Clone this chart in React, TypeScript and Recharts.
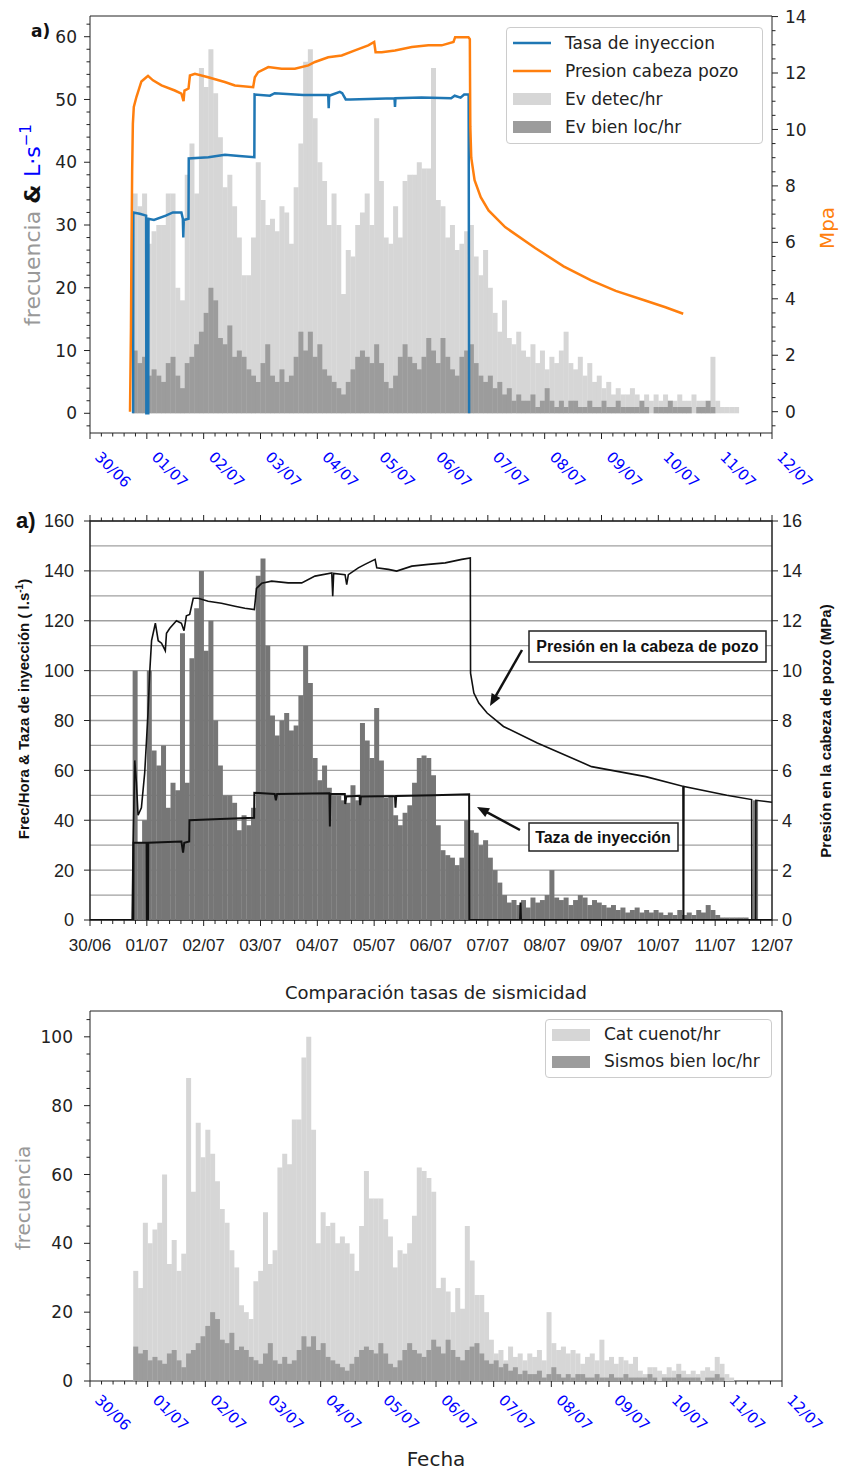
import React from 'react'
import { ComposedChart, Bar, Line, XAxis, YAxis, ReferenceArea, CartesianGrid, Legend } from 'recharts'

// time axis: hours counted from 30/06 00:00, one label per day
const DAY_LABELS = ['30/06', '01/07', '02/07', '03/07', '04/07', '05/07', '06/07', '07/07', '08/07', '09/07', '10/07', '11/07', '12/07']
const FIRST_HOUR = 18 // rate series start at 30/06 18:00
const BIN_HOURS = 2
const N_BINS = 144

const LIGHT = '#d6d6d6'
const DARK = '#9c9c9c'
const SCAN_BAR = '#767676'
const BLUE = '#1f77b4'
const ORANGE = '#ff7f0e'
const MPL_FONT = 'DejaVu Sans, Verdana, sans-serif'
const SCAN_FONT = 'Liberation Sans, Arial, sans-serif'
const PANEL2_PLOT_H = 399

// events per hour, 2 h bins from 30/06 18:00
const evDetec = [
  35, 33, 35, 27, 29, 30, 30, 35, 35, 20,
  18, 38, 43, 35, 55, 52, 58, 51, 44, 36,
  38, 33, 28, 22, 22, 28, 40, 34, 30, 31,
  29, 33, 32, 27, 36, 43, 56, 58, 47, 40,
  37, 30, 35, 30, 19, 26, 25, 30, 32, 35,
  30, 47, 37, 28, 27, 33, 28, 37, 38, 38,
  40, 39, 39, 55, 34, 33, 28, 30, 26, 27,
  29, 30, 25, 22, 26, 20, 16, 13, 18, 12,
  11, 13, 10, 9, 11, 8, 10, 7, 9, 8,
  10, 13, 8, 7, 9, 6, 8, 5, 6, 4,
  5, 3, 4, 3, 3, 4, 3, 2, 3, 2,
  3, 2, 3, 2, 2, 3, 2, 2, 3, 2,
  2, 1, 9, 2, 1, 1, 1, 1,
]
const evBienLoc = [
  10, 8, 9, 6, 7, 6, 5, 8, 9, 6,
  4, 8, 9, 11, 13, 16, 20, 18, 12, 11,
  14, 9, 10, 9, 7, 6, 5, 8, 11, 6,
  5, 7, 5, 6, 9, 13, 10, 13, 9, 11,
  7, 6, 5, 4, 3, 5, 7, 9, 10, 9,
  8, 11, 8, 5, 4, 6, 9, 11, 9, 8,
  7, 9, 12, 10, 8, 12, 9, 7, 6, 9,
  10, 11, 8, 6, 5, 6, 4, 5, 3, 4,
  2, 3, 2, 2, 3, 1, 2, 4, 2, 1,
  2, 1, 2, 2, 1, 1, 2, 1, 1, 2,
  1, 1, 2, 1, 1, 1, 1, 2, 1, 0,
  1, 1, 1, 2, 1, 1, 1, 1, 0, 1,
  1, 2, 1, 0, 0, 0, 0, 0,
]
const catCuenot = [
  32, 27, 46, 40, 44, 46, 60, 34, 41, 32,
  37, 88, 55, 75, 65, 73, 66, 58, 50, 46,
  38, 33, 22, 20, 18, 29, 32, 49, 34, 38,
  62, 66, 63, 76, 76, 94, 100, 73, 40, 49,
  45, 46, 40, 42, 40, 37, 32, 45, 61, 53,
  53, 53, 47, 42, 33, 38, 37, 40, 48, 62,
  61, 59, 55, 27, 30, 26, 20, 27, 21, 45,
  35, 25, 25, 20, 12, 8, 9, 6, 10, 7,
  8, 6, 8, 7, 9, 6, 20, 11, 9, 10,
  8, 9, 8, 5, 7, 8, 6, 12, 6, 7,
  5, 7, 6, 5, 7, 3, 2, 4, 4, 3,
  2, 4, 3, 5, 3, 2, 3, 2, 3, 4,
  3, 7, 5, 2, 1, 0, 0, 0,
]
const frecHora = [
  100, 31, 40, 100, 68, 62, 70, 45, 55, 52,
  115, 55, 105, 125, 140, 108, 120, 80, 62, 50,
  50, 47, 36, 42, 38, 45, 138, 145, 110, 82,
  74, 80, 83, 76, 78, 90, 110, 95, 65, 56,
  62, 53, 50, 50, 48, 47, 54, 48, 79, 72,
  65, 85, 64, 49, 50, 42, 38, 43, 46, 55,
  65, 66, 65, 58, 38, 28, 26, 25, 22, 25,
  40, 36, 35, 30, 32, 25, 20, 15, 10, 7,
  8, 6, 8, 5, 9, 7, 8, 10, 20, 9,
  8, 9, 6, 8, 10, 9, 6, 8, 7, 6,
  5, 6, 4, 5, 3, 4, 5, 3, 4, 3,
  4, 3, 2, 3, 2, 4, 2, 3, 2, 4,
  3, 6, 4, 2, 1, 1, 1, 1, 1, 1,
  0, 48,
]

// [hour, value]
const tasaInyeccion: [number, number][] = [
  [18.2, 0], [18.3, 32], [21, 31.8], [23.7, 31.5], [23.8, 0], [24.6, 0], [24.7, 31], [27, 30.8], [32, 31.5],
  [35, 32], [38.6, 32], [39.2, 31], [39.4, 28], [39.6, 30.8], [41.6, 31], [41.7, 40.6], [50, 40.8], [57, 41.2],
  [63, 41], [69.4, 40.8], [69.5, 50.8], [76, 50.6], [78, 51], [90, 50.7], [100.6, 50.7], [100.8, 48.6],
  [101, 50.6], [105.5, 51.2], [106.5, 51], [108, 50], [110, 50], [128.6, 50.2], [128.8, 48.8], [129, 50.2],
  [140, 50.3], [152.5, 50.2], [154, 50.6], [156.5, 50.3], [158, 50.8], [159.9, 50.8], [160.1, 0],
]
const presionCabeza: [number, number][] = [
  [16.9, 0], [17.3, 3], [17.5, 5.5], [17.8, 8.5], [18.1, 10.2], [18.5, 10.8], [19.6, 11.15], [21.7, 11.7],
  [23.8, 11.85], [24.5, 11.9], [26.6, 11.74], [30.2, 11.56], [35.8, 11.38], [38.6, 11.27], [39.5, 11.0],
  [39.9, 11.38], [41.6, 11.45], [42.2, 11.91], [44.3, 11.97], [49.9, 11.85], [56.9, 11.68], [61.2, 11.56],
  [68.9, 11.5], [69.6, 11.85], [71, 12.03], [75.3, 12.21], [80.9, 12.15], [86.5, 12.15], [92.2, 12.27],
  [95, 12.39], [100.6, 12.56], [106.3, 12.62], [111.9, 12.8], [117.5, 12.98], [120, 13.1], [120.6, 12.74],
  [123.2, 12.74], [128.8, 12.8], [135.9, 12.92], [142.9, 12.98], [148.5, 12.98], [153.5, 13.1], [154.2, 13.27],
  [159.8, 13.27], [160.4, 13.2], [160.5, 11.5], [160.6, 10.1], [161, 9.0], [162.4, 8.2], [165, 7.6],
  [168.3, 7.13], [175.3, 6.54], [188, 5.8], [200, 5.15], [211.6, 4.65], [222, 4.28], [234.4, 3.94],
  [243, 3.7], [250.5, 3.47],
]
const tazaInyeccion2: [number, number][] = [
  [0, 0], [18.3, 0], [18.4, 31], [23.9, 31], [24.0, 0], [24.5, 0], [24.6, 31], [38.6, 31.5], [39.3, 27],
  [39.8, 31], [41.9, 31.5], [42.0, 40], [55, 40.5], [69.3, 41], [69.4, 51], [78, 50.5], [78.5, 48], [79, 50.5],
  [101.1, 50.8], [101.3, 37.5], [101.5, 50.5], [107.6, 50.5], [107.8, 46.5], [108.2, 49.5], [113.8, 49.8],
  [114.1, 46], [114.4, 49.5], [128.8, 49.7], [129.0, 45], [129.3, 49.7], [145, 50], [160.1, 50.4], [160.2, 0],
  [181.6, 0], [181.8, 7], [182.0, 0], [288, 0],
]
const presionCabeza2: [number, number][] = [
  [0, 0], [17.8, 0], [18.2, 3], [18.9, 6.4], [19.6, 5.5], [20.3, 4.2], [21.7, 4.5], [23.1, 5.9], [24.5, 8.3],
  [25.2, 9.9], [26.0, 11.2], [27.6, 11.9], [28.8, 11.2], [30.2, 11.1], [31.8, 10.8], [32.3, 11.5], [33.7, 11.7],
  [36.5, 12.0], [38.6, 11.9], [39.7, 11.6], [40.7, 12.2], [42.1, 12.25], [43.6, 12.9], [45.7, 12.9],
  [49.9, 12.78], [55.5, 12.7], [61.2, 12.58], [65.4, 12.5], [69.4, 12.45], [70.3, 13.3], [72.5, 13.5],
  [76.7, 13.59], [83.7, 13.52], [89.4, 13.52], [95.0, 13.79], [102.1, 13.92], [102.5, 12.98], [102.9, 13.9],
  [107.7, 13.85], [108.4, 13.45], [109.1, 13.85], [113.3, 14.12], [116.1, 14.26], [120.4, 14.46],
  [121.1, 14.12], [126.0, 14.06], [129.5, 13.99], [135.9, 14.19], [142.9, 14.26], [150.0, 14.32],
  [157.0, 14.46], [160.6, 14.52], [160.7, 9.9], [162.1, 9.1], [164.2, 8.7], [167.7, 8.3], [174.6, 7.76],
  [188.9, 7.1], [211.8, 6.15], [234.7, 5.75], [250.4, 5.36], [250.5, 0], [250.7, 0], [250.8, 5.35],
  [268.9, 5.0], [279.4, 4.83], [279.5, 0], [281.1, 0], [281.2, 4.8], [288, 4.72],
]

const binTable = Array.from({ length: N_BINS }, (_, i) => {
  const k = i - FIRST_HOUR / BIN_HOURS
  return {
    bin: i,
    h: i * BIN_HOURS + BIN_HOURS / 2,
    detec: evDetec[k] ?? 0,
    bien: evBienLoc[k] ?? 0,
    cuenot: catCuenot[k] ?? 0,
    frec: frecHora[k] ?? 0,
  }
})
const pts = (arr: [number, number][]) => arr.map(([h, v]) => ({ h, v }))

const range = (a: number, b: number, s: number) => Array.from({ length: Math.round((b - a) / s) + 1 }, (_, i) => a + i * s)
const isMult = (v: number, step: number) => Math.abs(v / step - Math.round(v / step)) < 1e-6
const X_TICKS = Array.from({ length: 61 }, (_, i) => (i * 24) / 5)

// ---- tick renderers (tickSize/tickMargin = 0, so x/y sit on the axis line) ----
const rotDayTick = (dy: number) => (p: any) => {
  const { x, y, payload } = p
  const v = payload.value
  const major = isMult(v, 24)
  const tx = x + 4
  const ty = y + dy
  return (
    <g>
      <line x1={x} x2={x} y1={y} y2={y + (major ? 6 : 3.5)} stroke="#222" />
      {major && (
        <text x={tx} y={ty} transform={`rotate(45 ${tx} ${ty})`} fill="#0000ff" fontSize={15} fontFamily={MPL_FONT}>
          {DAY_LABELS[Math.round(v / 24)]}
        </text>
      )}
    </g>
  )
}
// panel 2: ticks on the bottom spine and mirrored on the top spine
const flatDayTick = (p: any) => {
  const { x, y, payload } = p
  const major = isMult(payload.value, 24)
  const top = y - PANEL2_PLOT_H
  return (
    <g>
      <line x1={x} x2={x} y1={y} y2={y + (major ? 6 : 4)} stroke="#222" />
      <line x1={x} x2={x} y1={top} y2={top - (major ? 6 : 3.5)} stroke="#222" />
      {major && (
        <text x={x} y={y + 31} textAnchor="middle" fill="#222" fontSize={17} fontFamily={SCAN_FONT}>
          {DAY_LABELS[Math.round(payload.value / 24)]}
        </text>
      )}
    </g>
  )
}
const yTick = (side: 'left' | 'right', step: number, lo: number, hi: number, gap: number, fontSize: number, font: string, minorLen = 3.5) => (p: any) => {
  const { x, y, payload } = p
  const v = payload.value
  const major = isMult(v, step) && v >= lo && v <= hi
  const dir = side === 'left' ? -1 : 1
  const len = major ? 6 : minorLen
  return (
    <g>
      {len > 0 && <line x1={x} x2={x + dir * len} y1={y} y2={y} stroke="#222" />}
      {major && (
        <text x={x + dir * gap} y={y} dy="0.36em" textAnchor={side === 'left' ? 'end' : 'start'} fill="#222" fontSize={fontSize} fontFamily={font}>
          {Math.round(v)}
        </text>
      )}
    </g>
  )
}

type LegendItem = { name: string; kind: 'line' | 'patch'; color: string }
const LEGEND_1: LegendItem[] = [
  { name: 'Tasa de inyeccion', kind: 'line', color: BLUE },
  { name: 'Presion cabeza pozo', kind: 'line', color: ORANGE },
  { name: 'Ev detec/hr', kind: 'patch', color: LIGHT },
  { name: 'Ev bien loc/hr', kind: 'patch', color: DARK },
]
const LEGEND_3: LegendItem[] = [
  { name: 'Cat cuenot/hr', kind: 'patch', color: LIGHT },
  { name: 'Sismos bien loc/hr', kind: 'patch', color: DARK },
]
const legendBox = (items: LegendItem[], rowH: number) => () => (
  <div
    style={{
      boxSizing: 'border-box',
      background: 'rgba(255,255,255,0.85)',
      border: '1px solid #cccccc',
      borderRadius: 4,
      padding: '1px 6px 2px 6px',
      fontFamily: MPL_FONT,
      fontSize: 17,
      color: '#222',
      lineHeight: 1,
    }}
  >
    {items.map((it) => (
      <div key={it.name} style={{ display: 'flex', alignItems: 'center', height: rowH }}>
        <svg width={38} height={14} style={{ flex: 'none' }}>
          {it.kind === 'line' ? (
            <line x1={0} x2={38} y1={7} y2={7} stroke={it.color} strokeWidth={2.5} />
          ) : (
            <rect x={0} y={1} width={38} height={12} fill={it.color} />
          )}
        </svg>
        <span style={{ marginLeft: 14, whiteSpace: 'nowrap' }}>{it.name}</span>
      </div>
    ))}
  </div>
)

const arrowHead = (x1: number, y1: number, x2: number, y2: number, len = 12, w = 5) => {
  const L = Math.hypot(x2 - x1, y2 - y1)
  const ux = (x2 - x1) / L
  const uy = (y2 - y1) / L
  const bx = x2 - ux * len
  const by = y2 - uy * len
  return `${x2},${y2} ${bx - uy * w},${by + ux * w} ${bx + uy * w},${by - ux * w}`
}
const Arrow = ({ x1, y1, x2, y2 }: { x1: number; y1: number; x2: number; y2: number }) => {
  const L = Math.hypot(x2 - x1, y2 - y1)
  const ex = x2 - ((x2 - x1) / L) * 10
  const ey = y2 - ((y2 - y1) / L) * 10
  return (
    <g>
      <line x1={x1} y1={y1} x2={ex} y2={ey} stroke="#111" strokeWidth={2.5} />
      <polygon points={arrowHead(x1, y1, x2, y2)} fill="#111" />
    </g>
  )
}

// visible time axis is declared first so hidden band axes do not push it down
const Panel1 = () => (
  <ComposedChart width={841} height={500} data={binTable} margin={{ top: 16, right: 0, bottom: 0, left: 0 }} barCategoryGap={0} barGap={0}>
    <XAxis xAxisId="t" dataKey="h" type="number" domain={[0, 288]} allowDataOverflow ticks={X_TICKS} interval={0} height={67}
      axisLine={false} tickLine={false} tickSize={0} tickMargin={0} tick={rotDayTick(25)} />
    <XAxis xAxisId="b1" dataKey="bin" type="category" hide height={0} />
    <XAxis xAxisId="b2" dataKey="bin" type="category" hide height={0} />
    <YAxis yAxisId="l" orientation="left" width={90} type="number" domain={[-3.14, 63.3]} allowDataOverflow ticks={range(-2, 62, 2)}
      interval={0} axisLine={false} tickLine={false} tickSize={0} tickMargin={0} tick={yTick('left', 10, 0, 60, 13, 17, MPL_FONT)} />
    <YAxis yAxisId="r" orientation="right" width={69} type="number" domain={[-0.755, 14.02]} allowDataOverflow ticks={range(-0.5, 14, 0.5)}
      interval={0} axisLine={false} tickLine={false} tickSize={0} tickMargin={0} tick={yTick('right', 2, 0, 14, 13, 17, MPL_FONT)} />
    <Bar xAxisId="b1" yAxisId="l" dataKey="detec" fill={LIGHT} isAnimationActive={false} />
    <Bar xAxisId="b2" yAxisId="l" dataKey="bien" fill={DARK} isAnimationActive={false} />
    <Line xAxisId="t" yAxisId="l" data={pts(tasaInyeccion)} dataKey="v" type="linear" stroke={BLUE} strokeWidth={2.5} dot={false} isAnimationActive={false} />
    <Line xAxisId="t" yAxisId="r" data={pts(presionCabeza)} dataKey="v" type="linear" stroke={ORANGE} strokeWidth={2.5} dot={false} isAnimationActive={false} />
    <ReferenceArea xAxisId="t" yAxisId="l" x1={0} x2={288} y1={-3.14} y2={63.3} fill="none" stroke="#222" ifOverflow="visible" />
    <Legend layout="vertical" align="center" verticalAlign="middle" content={legendBox(LEGEND_1, 28)}
      wrapperStyle={{ left: 506, top: 27, width: 257 }} />
    <text x={31} y={37} fontSize={17} fontWeight="bold" fontFamily={MPL_FONT} fill="#111">a)</text>
    <text x={40} y={225} transform="rotate(-90 40 225)" textAnchor="middle" fontSize={22} fontFamily={MPL_FONT}>
      <tspan fill="#999999">frecuencia </tspan>
      <tspan fill="#111" fontWeight="bold">&amp; </tspan>
      <tspan fill="#0000ff">L·s</tspan>
      <tspan fill="#0000ff" fontSize={15} dy={-9}>−1</tspan>
    </text>
    <text x={834} y={228} transform="rotate(-90 834 228)" textAnchor="middle" fontSize={20} fontFamily={MPL_FONT} fill={ORANGE}>Mpa</text>
  </ComposedChart>
)

const Panel2 = () => (
  <ComposedChart width={841} height={470} data={binTable} margin={{ top: 21, right: 0, bottom: 0, left: 0 }} barCategoryGap={0} barGap={0}>
    <XAxis xAxisId="t" dataKey="h" type="number" domain={[0, 288]} allowDataOverflow ticks={X_TICKS} interval={0} height={50}
      axisLine={false} tickLine={false} tickSize={0} tickMargin={0} tick={flatDayTick} />
    <XAxis xAxisId="b1" dataKey="bin" type="category" hide height={0} />
    <YAxis yAxisId="l" orientation="left" width={90} type="number" domain={[0, 160]} allowDataOverflow ticks={range(0, 160, 10)}
      interval={0} axisLine={false} tickLine={false} tickSize={0} tickMargin={0} tick={yTick('left', 20, 0, 160, 16, 18, SCAN_FONT, 0)} />
    <YAxis yAxisId="r" orientation="right" width={69} type="number" domain={[0, 16]} allowDataOverflow ticks={range(0, 16, 2)}
      interval={0} axisLine={false} tickLine={false} tickSize={0} tickMargin={0} tick={yTick('right', 2, 0, 16, 10, 18, SCAN_FONT, 0)} />
    <CartesianGrid xAxisId="t" yAxisId="l" vertical={false} stroke="#a0a0a0" strokeWidth={1.3} />
    <Bar xAxisId="b1" yAxisId="l" dataKey="frec" fill={SCAN_BAR} isAnimationActive={false} />
    <Line xAxisId="t" yAxisId="l" data={pts(tazaInyeccion2)} dataKey="v" type="linear" stroke="#111" strokeWidth={2} dot={false} isAnimationActive={false} />
    <Line xAxisId="t" yAxisId="r" data={pts(presionCabeza2)} dataKey="v" type="linear" stroke="#111" strokeWidth={1.6} dot={false} isAnimationActive={false} />
    <ReferenceArea xAxisId="t" yAxisId="l" x1={0} x2={288} y1={0} y2={160} fill="none" stroke="#222" strokeWidth={1.5} ifOverflow="visible" />
    <text x={16} y={28} fontSize={22} fontWeight="bold" fontFamily={SCAN_FONT} fill="#111">a)</text>
    <text x={29} y={209} transform="rotate(-90 29 209)" textAnchor="middle" fontSize={15} fontWeight="bold" fontFamily={SCAN_FONT} fill="#111">
      Frec/Hora &amp; Taza de inyección ( l.s<tspan fontSize={10} dy={-6}>-1</tspan><tspan dy={6}>)</tspan>
    </text>
    <text x={831} y={231} transform="rotate(-90 831 231)" textAnchor="middle" fontSize={15} fontWeight="bold" fontFamily={SCAN_FONT} fill="#111">
      Presión en la cabeza de pozo (MPa)
    </text>
    <rect x={529} y={131} width={237} height={31} fill="#fff" stroke="#222" strokeWidth={1.5} />
    <text x={647.5} y={152} textAnchor="middle" fontSize={16} fontWeight="bold" fontFamily={SCAN_FONT} fill="#111">Presión en la cabeza de pozo</text>
    <Arrow x1={522} y1={150} x2={490} y2={206} />
    <rect x={529} y={323} width={149} height={28} fill="#fff" stroke="#222" strokeWidth={1.5} />
    <text x={603} y={343} textAnchor="middle" fontSize={16} fontWeight="bold" fontFamily={SCAN_FONT} fill="#111">Taza de inyección</text>
    <Arrow x1={520} y1={330} x2={477} y2={307} />
  </ComposedChart>
)

const Panel3 = () => (
  <ComposedChart width={841} height={501} data={binTable} margin={{ top: 41, right: 59, bottom: 0, left: 0 }} barCategoryGap={0} barGap={0}>
    <XAxis xAxisId="t" dataKey="h" type="number" domain={[0, 288]} allowDataOverflow ticks={X_TICKS} interval={0} height={90}
      axisLine={false} tickLine={false} tickSize={0} tickMargin={0} tick={rotDayTick(20)} />
    <XAxis xAxisId="b1" dataKey="bin" type="category" hide height={0} />
    <XAxis xAxisId="b2" dataKey="bin" type="category" hide height={0} />
    <YAxis yAxisId="l" orientation="left" width={90} type="number" domain={[0, 107.5]} allowDataOverflow ticks={range(0, 105, 5)}
      interval={0} axisLine={false} tickLine={false} tickSize={0} tickMargin={0} tick={yTick('left', 20, 0, 100, 17, 17, MPL_FONT)} />
    <Bar xAxisId="b1" yAxisId="l" dataKey="cuenot" fill={LIGHT} isAnimationActive={false} />
    <Bar xAxisId="b2" yAxisId="l" dataKey="bien" fill={DARK} isAnimationActive={false} />
    <ReferenceArea xAxisId="t" yAxisId="l" x1={0} x2={288} y1={0} y2={107.5} fill="none" stroke="#222" ifOverflow="visible" />
    <Legend layout="vertical" align="center" verticalAlign="middle" content={legendBox(LEGEND_3, 27)}
      wrapperStyle={{ left: 545, top: 49, width: 227 }} />
    <text x={436} y={29} textAnchor="middle" fontSize={18} fontFamily={MPL_FONT} fill="#222">Comparación tasas de sismicidad</text>
    <text x={30} y={228} transform="rotate(-90 30 228)" textAnchor="middle" fontSize={20} fontFamily={MPL_FONT} fill="#999999">frecuencia</text>
    <text x={436} y={496} textAnchor="middle" fontSize={20} fontFamily={MPL_FONT} fill="#222">Fecha</text>
  </ComposedChart>
)

export default function App() {
  return (
    <div style={{ position: 'absolute', left: 0, top: 0, width: 841, height: 1471, background: '#fff' }}>
      <div style={{ position: 'absolute', left: 0, top: 0 }}>
        <Panel1 />
      </div>
      <div style={{ position: 'absolute', left: 0, top: 500 }}>
        <Panel2 />
      </div>
      <div style={{ position: 'absolute', left: 0, top: 970 }}>
        <Panel3 />
      </div>
    </div>
  )
}
